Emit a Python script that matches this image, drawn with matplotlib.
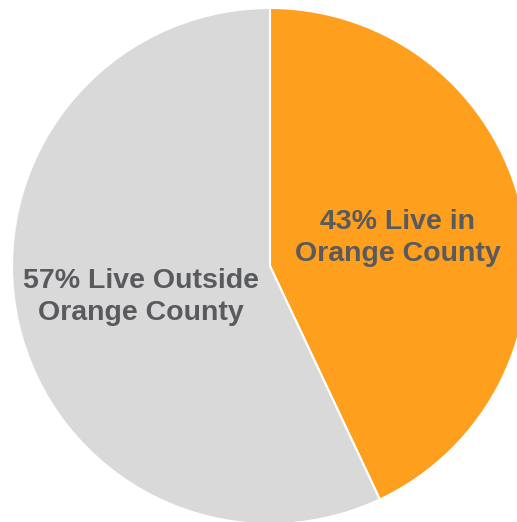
import matplotlib.pyplot as plt
from matplotlib import font_manager

# share of people by where they live
labels = ['43% Live in\nOrange County', '57% Live Outside\nOrange County']
values = [43, 57]
colors = ['#FF9F1E', '#D9D9D9']

# pick a narrow bold font if there is one
names = {f.name for f in font_manager.fontManager.ttflist}
font = 'Liberation Sans Narrow' if 'Liberation Sans Narrow' in names else 'Liberation Sans'

fig = plt.figure(figsize=(5.17, 5.22), dpi=100)
ax = fig.add_axes([0, 0, 1, 1])

wedges, _ = ax.pie(values, colors=colors, startangle=90, counterclock=False,
                   radius=1.0, wedgeprops=dict(edgecolor='white', linewidth=1.5))

# label positions in data units
label_pos = [(0.495, 0.11), (-0.50, -0.12)]
for txt, (x, y) in zip(labels, label_pos):
    ax.text(x, y, txt, ha='center', va='center', fontsize=20.5, fontweight='bold',
            color='#585A5E', family=[font, 'DejaVu Sans'], linespacing=1.3)

# circle is clipped on the right and bottom like the original
ax.set_xlim(-270 / 258, 247 / 258)
ax.set_ylim(-256 / 258, 266 / 258)
ax.set_aspect('auto')
ax.axis('off')

fig.savefig('out.png', dpi=100)
